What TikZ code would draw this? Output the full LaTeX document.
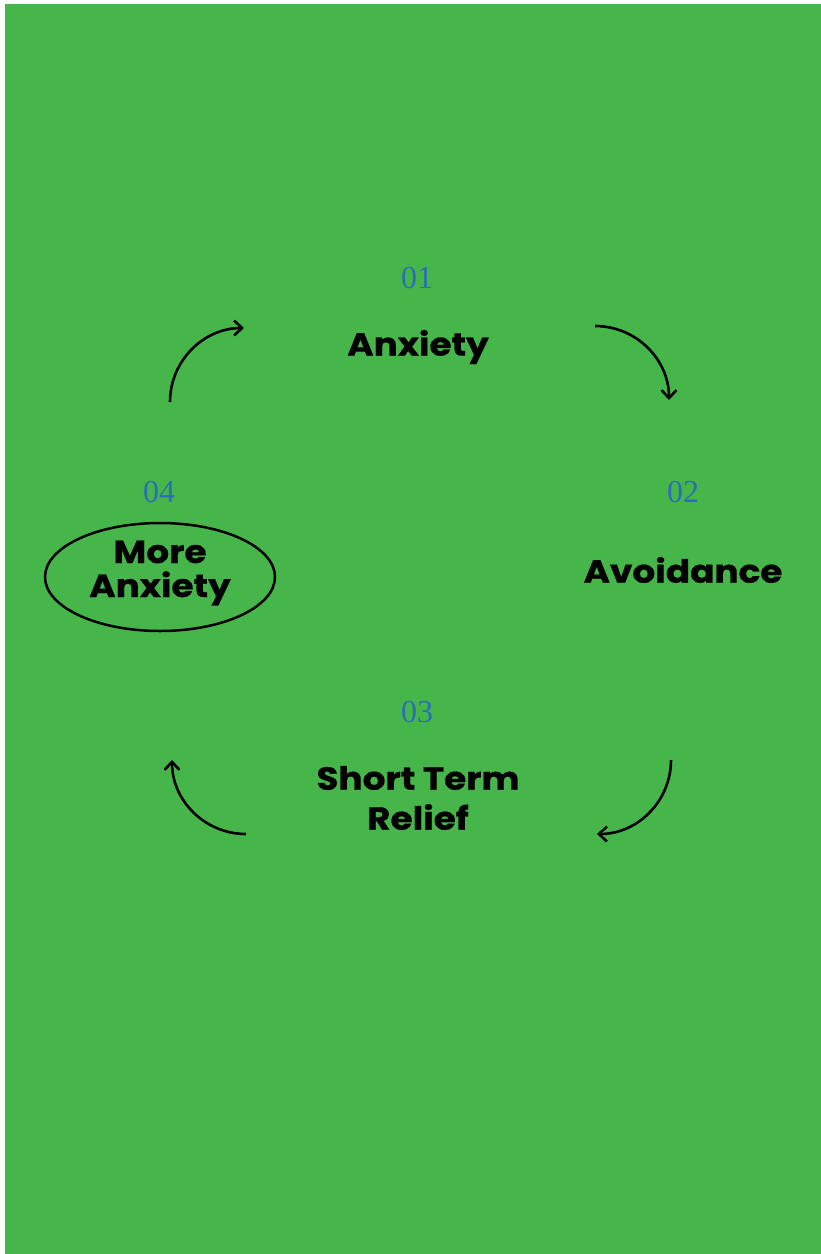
\documentclass[tikz,border=0pt]{standalone}
\usepackage{fontspec}
\setsansfont{Poppins}[FakeStretch=1.12,BoldFeatures={FakeBold=0.6}]
\newfontfamily\numfont{Liberation Serif}
\usetikzlibrary{arrows.meta,shapes.geometric}
\definecolor{cyclegreen}{HTML}{46B64A}
\definecolor{numblue}{HTML}{2A6EB5}

\begin{document}
\begin{tikzpicture}[x=1pt,y=-1pt,
    num/.style={text=numblue,font=\numfont\fontsize{32}{32}\selectfont,inner sep=0pt},
    label/.style={font=\sffamily\bfseries\fontsize{32}{34}\selectfont,align=center,inner sep=0pt},
    cyc/.style={line width=2.6pt,-{Straight Barb[length=8pt,width=15pt]}}]
  \useasboundingbox (0,0) rectangle (821,1254);
  \fill[cyclegreen] (5,4) rectangle (821,1254);
  % stage numbers and names
  \node[num] (num1) at (417,278) {01};
  \node[label] (anx) at (418,347) {Anxiety};
  \node[num] (num2) at (683,492) {02};
  \node[label] (avoid) at (683,570) {Avoidance};
  \node[num] (num3) at (417,712) {03};
  \node[label,font=\sffamily\bfseries\fontsize{32}{40}\selectfont] (relief) at (418,798) {Short Term\\Relief};
  \node[num] (num4) at (159,492) {04};
  \node[draw,ellipse,line width=2.5pt,minimum width=230,minimum height=108,inner sep=0pt] (more) at (160,577) {};
  \node[label] (moretxt) at (160,573) {More\\Anxiety};
  % arcs between the stages
  \coordinate (a1) at (595,326);
  \coordinate (a2) at (671,760);
  \coordinate (a3) at (246,834);
  \coordinate (a4) at (170,402);
  \draw[cyc] (a1) arc[start angle=270,end angle=360,radius=74];
  \draw[cyc] (a2) arc[start angle=0,end angle=90,radius=74];
  \draw[cyc] (a3) arc[start angle=90,end angle=180,radius=74];
  \draw[cyc] (a4) arc[start angle=180,end angle=270,radius=74];
\end{tikzpicture}
\end{document}
